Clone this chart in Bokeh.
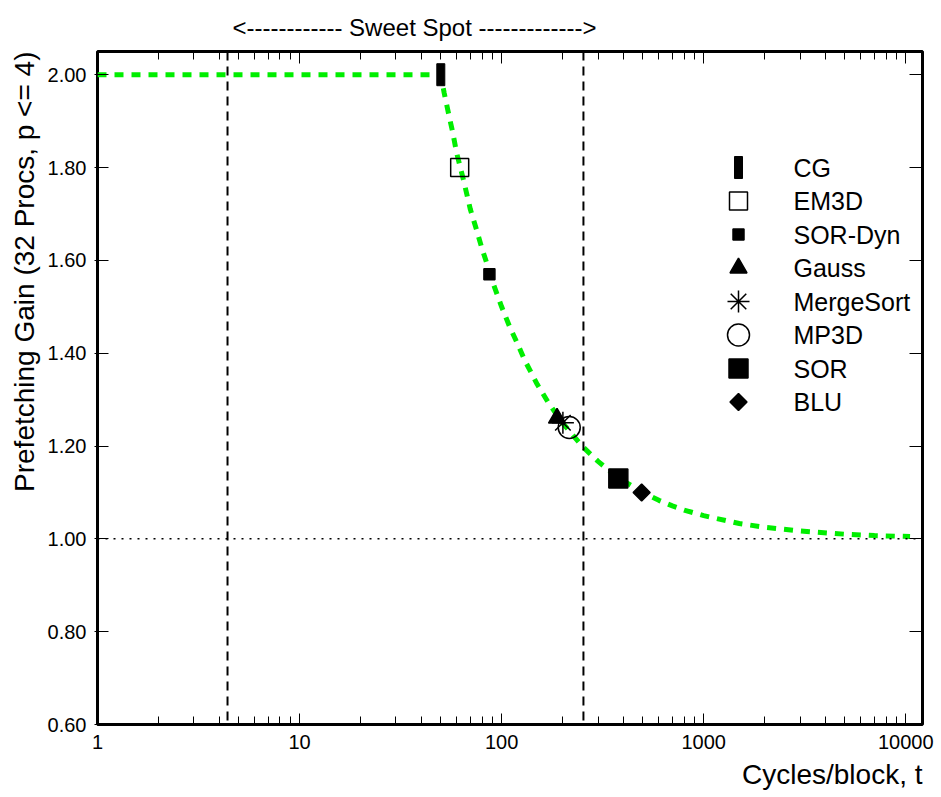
import math
from bokeh.plotting import figure
from bokeh.models import (ColumnDataSource, Span, LogAxis, LinearAxis, FixedTicker,
                          PrintfTickFormatter, Title)
from bokeh.core.properties import value
from bokeh.embed import file_html
from bokeh.resources import INLINE

FONT = "Liberation Sans"

# ---------------- data ----------------
benchmarks = ["CG", "EM3D", "SOR-Dyn", "Gauss", "MergeSort", "MP3D", "SOR", "BLU"]
bench_cycles = [50, 62, 87, 188, 201, 216, 378, 493]
bench_gain = [2.00, 1.80, 1.57, 1.26, 1.25, 1.24, 1.13, 1.10]

curve_cycles = [1, 50, 52, 55, 57, 60, 65, 70, 75, 80, 85, 90, 100, 110, 120, 130, 150,
                170, 200, 250, 300, 350, 400, 500, 600, 700, 800, 1000, 1500, 2000,
                3000, 5000, 7000, 10500]
curve_gain = [2.00, 2.00, 1.96, 1.91, 1.88, 1.83, 1.77, 1.71, 1.667, 1.625, 1.59, 1.555,
              1.50, 1.455, 1.42, 1.385, 1.333, 1.294, 1.25, 1.20, 1.167, 1.143, 1.125,
              1.10, 1.083, 1.071, 1.062, 1.05, 1.033, 1.025, 1.017, 1.010, 1.007, 1.005]

sweet_spot = [4.4, 254]
baseline_gain = 1.0
y_ticks = [0.6, 0.8, 1.0, 1.2, 1.4, 1.6, 1.8, 2.0]
x_ticks = [1, 10, 100, 1000, 10000]
x_minor = [m * 10 ** k for k in range(0, 4) for m in range(2, 10)]

x_lo, x_hi = 1, 12100
y_lo, y_hi = 0.6, 2.05

# ---------------- layout ----------------
W, H = 941, 797
BL, BR, BT, BB = 97, 19, 51, 73
FW, FH = W - BL - BR, H - BT - BB

styles = {
    "CG":        dict(kind="rect", w=8, h=22),
    "EM3D":      dict(kind="marker", marker="square", size=18, fill=None),
    "SOR-Dyn":   dict(kind="marker", marker="square", size=11, fill="black"),
    "Gauss":     dict(kind="marker", marker="triangle", size=17, fill="black"),
    "MergeSort": dict(kind="marker", marker="asterisk", size=22, fill=None),
    "MP3D":      dict(kind="marker", marker="circle", size=22, fill=None),
    "SOR":       dict(kind="marker", marker="square", size=19, fill="black"),
    "BLU":       dict(kind="marker", marker="square", size=12, fill="black", angle=math.pi / 4),
}

p = figure(width=W, height=H, x_axis_type="log", x_range=(x_lo, x_hi), y_range=(y_lo, y_hi),
           output_backend="svg", toolbar_location=None, title=None,
           min_border_left=BL, min_border_right=BR, min_border_top=BT, min_border_bottom=BB)
p.background_fill_color = "white"
p.border_fill_color = "white"
p.outline_line_color = "black"
p.outline_line_width = 3
p.xgrid.visible = False
p.ygrid.visible = False

xt = FixedTicker(ticks=x_ticks, minor_ticks=x_minor)
yt = FixedTicker(ticks=y_ticks, minor_ticks=[])

# bottom axis
xa = p.xaxis[0]
xa.ticker = xt
xa.formatter = PrintfTickFormatter(format="%d")
xa.axis_line_color = None
xa.major_tick_in = 11
xa.major_tick_out = 0
xa.minor_tick_in = 8
xa.minor_tick_out = 0
xa.major_tick_line_color = "black"
xa.minor_tick_line_color = "black"
xa.major_label_standoff = 10
xa.major_label_text_font = FONT
xa.major_label_text_font_size = "20px"
xa.major_label_text_color = "black"

# left axis
ya = p.yaxis[0]
ya.ticker = yt
ya.formatter = PrintfTickFormatter(format="%.2f")
ya.axis_line_color = None
ya.major_tick_in = 11
ya.major_tick_out = 3
ya.minor_tick_in = 0
ya.minor_tick_out = 0
ya.major_tick_line_color = "black"
ya.major_label_standoff = 8
ya.major_label_text_font = FONT
ya.major_label_text_font_size = "20px"
ya.major_label_text_color = "black"

# top axis (ticks only, labels not drawn)
ta = LogAxis(ticker=xt, formatter=PrintfTickFormatter(format="%d"))
ta.axis_line_color = None
ta.major_tick_in = 12
ta.major_tick_out = 0
ta.minor_tick_in = 8
ta.minor_tick_out = 0
ta.major_tick_line_color = "black"
ta.minor_tick_line_color = "black"
ta.major_label_text_font_size = "1px"
ta.major_label_text_color = None
ta.major_label_standoff = 0
p.add_layout(ta, "above")

# right axis (ticks only, labels not drawn)
ra = LinearAxis(ticker=yt, formatter=PrintfTickFormatter(format="%.2f"))
ra.axis_line_color = None
ra.major_tick_in = 13
ra.major_tick_out = 0
ra.minor_tick_in = 0
ra.minor_tick_out = 0
ra.major_tick_line_color = "black"
ra.major_label_text_font_size = "1px"
ra.major_label_text_color = None
ra.major_label_standoff = 0
p.add_layout(ra, "right")

# titles
p.add_layout(Title(text="<------------ Sweet Spot ------------->", align="left", offset=135,
                   standoff=22, text_font=FONT, text_font_size="24px",
                   text_font_style="normal", text_color="black"), "above")
p.add_layout(Title(text="Prefetching Gain (32 Procs, p <= 4)", align="right", offset=0,
                   text_font=FONT, text_font_size="28px", text_font_style="normal",
                   text_color="black"), "left")
p.add_layout(Title(text="Cycles/block, t", align="right", offset=0,
                   text_font=FONT, text_font_size="28px", text_font_style="normal",
                   text_color="black"), "below")

# reference lines
for loc in sweet_spot:
    p.add_layout(Span(location=loc, dimension="height", line_color="black",
                      line_width=2, line_dash="9 6"))
p.add_layout(Span(location=baseline_gain, dimension="width", line_color="black",
                  line_width=1.5, line_dash="2 6"))

# model curve
p.line(curve_cycles, curve_gain, line_color="#00ee00", line_width=5, line_dash="9 8")


def draw(x, y, st):
    if st["kind"] == "rect":
        p.rect(x=x, y=y, width=st["w"], height=st["h"], width_units="screen",
               height_units="screen", fill_color="black", line_color="black")
    else:
        p.scatter(x=x, y=y, marker=st["marker"], size=st["size"],
                  angle=st.get("angle", 0),
                  fill_color=st["fill"], line_color="black", line_width=1.5)


for name, cx, g in zip(benchmarks, bench_cycles, bench_gain):
    draw([cx], [g], styles[name])

# manual legend (positions in screen px relative to frame, converted to data)
def px_to_x(px):
    l0, l1 = math.log10(x_lo), math.log10(x_hi)
    return 10 ** (l0 + px / FW * (l1 - l0))


def py_to_y(py):
    return y_hi - py / FH * (y_hi - y_lo)


LEG_MARK_PX = 641
LEG_TEXT_PX = 696
LEG_ROW0_PY = 116
LEG_DY_PX = 33.5

leg_y = [py_to_y(LEG_ROW0_PY + i * LEG_DY_PX) for i in range(len(benchmarks))]
for name, yy in zip(benchmarks, leg_y):
    draw([px_to_x(LEG_MARK_PX)], [yy], styles[name])

p.text(x=[px_to_x(LEG_TEXT_PX)] * len(benchmarks), y=leg_y, text=benchmarks,
       text_font=value(FONT), text_font_size="25px", text_baseline="middle",
       text_align="left", text_color="black")

open("out.html", "w").write(file_html(p, INLINE))
